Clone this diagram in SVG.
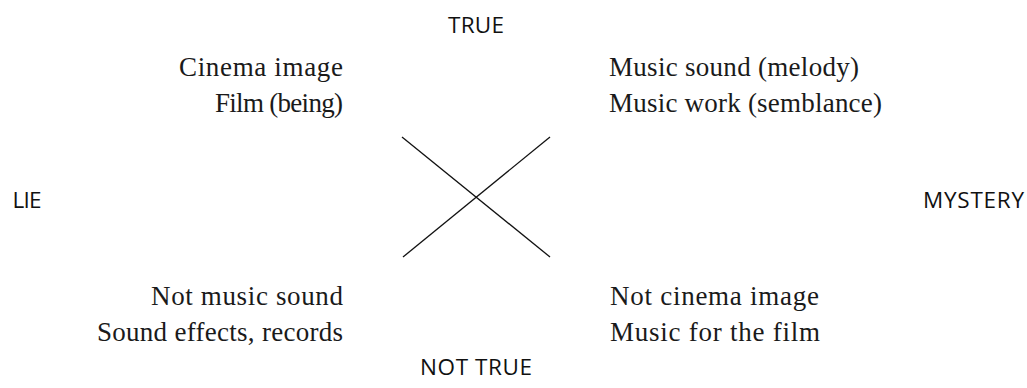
<svg xmlns="http://www.w3.org/2000/svg" width="1027" height="388" viewBox="0 0 1027 388">
  <style>
    .serif { font-family: "Liberation Serif", "Times New Roman", serif; font-size: 27px; fill: #1a1a1a; }
    .sans { font-family: "Open Sans", "Noto Sans", sans-serif; font-size: 22.5px; fill: #111; }
    .conn { stroke: #111; stroke-width: 1.3; fill: none; }
  </style>
  <rect width="1027" height="388" fill="#ffffff"/>
  <g id="label-true"><text class="sans" x="476" y="33" text-anchor="middle" textLength="56">TRUE</text></g>
  <g id="label-not-true"><text class="sans" x="476" y="375" text-anchor="middle" textLength="112">NOT TRUE</text></g>
  <g id="label-lie"><text class="sans" x="12.5" y="208" textLength="29">LIE</text></g>
  <g id="label-mystery"><text class="sans" x="1024" y="208" text-anchor="end" textLength="101">MYSTERY</text></g>
  <g id="node-top-left">
    <text class="serif" x="343" y="76" text-anchor="end" textLength="164">Cinema image</text>
    <text class="serif" x="343" y="112" text-anchor="end" textLength="128">Film (being)</text>
  </g>
  <g id="node-top-right">
    <text class="serif" x="609" y="76" textLength="250">Music sound (melody)</text>
    <text class="serif" x="609" y="112" textLength="273">Music work (semblance)</text>
  </g>
  <g id="node-bottom-left">
    <text class="serif" x="343" y="305" text-anchor="end" textLength="192">Not music sound</text>
    <text class="serif" x="343" y="341" text-anchor="end" textLength="246">Sound effects, records</text>
  </g>
  <g id="node-bottom-right">
    <text class="serif" x="610" y="305" textLength="209">Not cinema image</text>
    <text class="serif" x="610" y="341" textLength="210">Music for the film</text>
  </g>
  <g id="connectors">
    <line class="conn" x1="402" y1="137" x2="550" y2="257"/>
    <line class="conn" x1="550" y1="137" x2="403" y2="257"/>
  </g>
</svg>
